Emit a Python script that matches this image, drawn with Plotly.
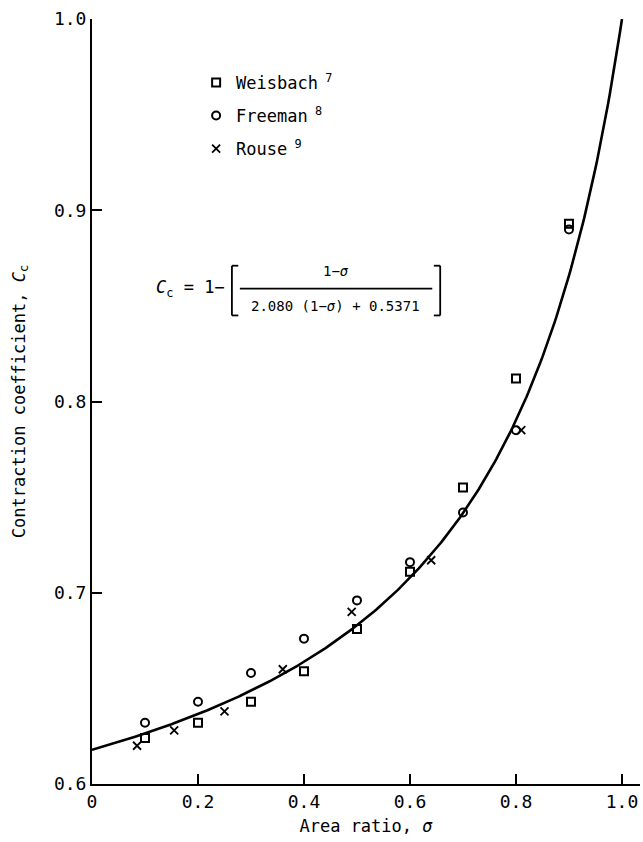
import numpy as np
import plotly.graph_objects as go

# ---- data ----
sigma_w = [0.1, 0.2, 0.3, 0.4, 0.5, 0.6, 0.7, 0.8, 0.9]
cc_weisbach = [0.624, 0.632, 0.643, 0.659, 0.681, 0.711, 0.755, 0.812, 0.893]
sigma_f = [0.1, 0.2, 0.3, 0.4, 0.5, 0.6, 0.7, 0.8, 0.9]
cc_freeman = [0.632, 0.643, 0.658, 0.676, 0.696, 0.716, 0.742, 0.785, 0.890]
sigma_r = [0.085, 0.155, 0.25, 0.36, 0.49, 0.64, 0.81]
cc_rouse = [0.620, 0.628, 0.638, 0.660, 0.690, 0.717, 0.785]

# fitted curve stated on the chart: Cc = 1 - (1-s)/(A(1-s)+B)
A_COEF = 2.080
B_COEF = 0.5371
sigma_curve = np.linspace(0.0, 1.0, 301)
cc_curve = 1 - (1 - sigma_curve) / (A_COEF * (1 - sigma_curve) + B_COEF)

x_ticks = [0, 0.2, 0.4, 0.6, 0.8, 1.0]
x_ticktext = ["0", "0.2", "0.4", "0.6", "0.8", "1.0"]
y_ticks = [0.6, 0.7, 0.8, 0.9, 1.0]
y_ticktext = ["0.6", "0.7", "0.8", "0.9", "1.0"]

FONT = "DejaVu Sans Mono"

fig = go.Figure()
fig.add_trace(go.Scatter(x=sigma_curve, y=cc_curve, mode="lines",
                         line=dict(color="black", width=2.6),
                         showlegend=False, hoverinfo="skip"))
fig.add_trace(go.Scatter(x=sigma_w, y=cc_weisbach, mode="markers",
                         name="Weisbach<sup> 7</sup>", legendgroup="w",
                         marker=dict(symbol="square-open", size=8, color="black",
                                     line=dict(width=2, color="black"))))
fig.add_trace(go.Scatter(x=sigma_f, y=cc_freeman, mode="markers",
                         name="Freeman<sup> 8</sup>", legendgroup="f",
                         marker=dict(symbol="circle-open", size=8, color="black",
                                     line=dict(width=2, color="black"))))
fig.add_trace(go.Scatter(x=sigma_r, y=cc_rouse, mode="markers",
                         name="Rouse<sup> 9</sup>", legendgroup="r",
                         marker=dict(symbol="x-thin", size=8, color="black",
                                     line=dict(width=1.8, color="black"))))

# ---- formula annotation ----
fy = 0.859
fx = 0.460
fig.add_annotation(x=0.255, y=fy, xref="x", yref="y", xanchor="right", yanchor="middle",
                   text="<i>C</i><sub>c</sub> = 1−", showarrow=False,
                   font=dict(family=FONT, size=17, color="black"))
fig.add_annotation(x=fx, y=fy + 0.004, xref="x", yref="y", xanchor="center", yanchor="bottom",
                   text="1−<i>σ</i>", showarrow=False,
                   font=dict(family=FONT, size=14, color="black"))
fig.add_annotation(x=fx, y=fy - 0.004, xref="x", yref="y", xanchor="center", yanchor="top",
                   text="2.080 (1−<i>σ</i>) + 0.5371", showarrow=False,
                   font=dict(family=FONT, size=14, color="black"))
line_k = dict(color="black", width=1.8)
fig.add_shape(type="line", x0=0.279, x1=0.642, y0=fy, y1=fy, xref="x", yref="y", line=line_k)
# brackets
bl, br = 0.264, 0.657
yt, yb = fy + 0.012, fy - 0.014
for x0, dx in ((bl, 0.012), (br, -0.012)):
    fig.add_shape(type="line", x0=x0, x1=x0, y0=yb, y1=yt, xref="x", yref="y", line=line_k)
    fig.add_shape(type="line", x0=x0, x1=x0 + dx, y0=yt, y1=yt, xref="x", yref="y", line=line_k)
    fig.add_shape(type="line", x0=x0, x1=x0 + dx, y0=yb, y1=yb, xref="x", yref="y", line=line_k)

fig.update_layout(
    width=643, height=842,
    margin=dict(l=92, r=3, t=19, b=58),
    paper_bgcolor="white", plot_bgcolor="white",
    font=dict(family=FONT, size=18, color="black"),
    legend=dict(x=0.19, y=0.94, xanchor="left", yanchor="top",
                bgcolor="rgba(0,0,0,0)", font=dict(family=FONT, size=17),
                itemwidth=30, tracegroupgap=8),
    xaxis=dict(range=[0, 1.034], tickvals=x_ticks, ticktext=x_ticktext,
               showline=True, linecolor="black", linewidth=2,
               ticks="inside", ticklen=10, tickwidth=2, tickcolor="black",
               showgrid=False, zeroline=False,
               title=dict(text="Area ratio, <i>σ</i>", font=dict(size=17), standoff=10)),
    yaxis=dict(range=[0.6, 1.0], tickvals=y_ticks, ticktext=y_ticktext,
               showline=True, linecolor="black", linewidth=2,
               ticks="inside", ticklen=10, tickwidth=2, tickcolor="black",
               showgrid=False, zeroline=False,
               title=dict(text="Contraction coefficient, <i>C</i><sub>c</sub>",
                          font=dict(size=17), standoff=24)),
)

fig.write_html("out.html")
